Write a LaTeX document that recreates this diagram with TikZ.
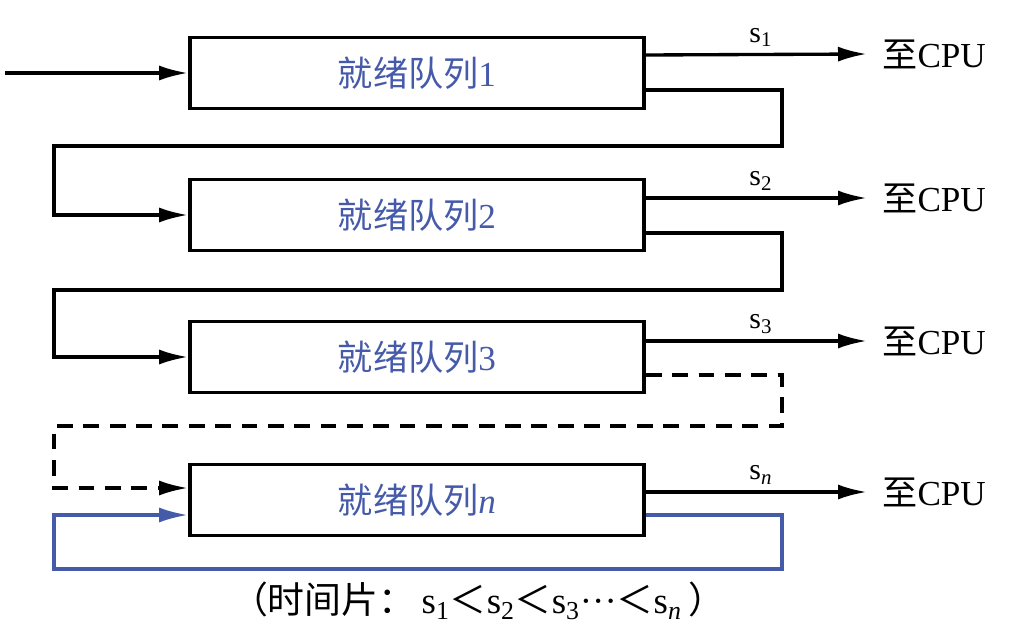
\documentclass[tikz,border=0pt]{standalone}
\usepackage{fontspec}
\setmainfont{Liberation Serif}
\newfontfamily\cjk{Noto Sans CJK SC}
\usetikzlibrary{calc,arrows.meta}
\definecolor{qblue}{RGB}{70,90,170}
\tikzset{
    queue/.style={draw,line width=2.2pt,minimum width=9.08cm,minimum height=1.42cm,
      text=qblue,font=\fontsize{20}{24}\selectfont},
    line/.style={line width=1.9pt},
    arr/.style={line,-{Latex[length=5.8mm,width=3mm]}},
    cpu/.style={right,font=\fontsize{20}{24}\selectfont,inner sep=0pt},
    slice/.style={font=\fontsize{17}{20}\selectfont},
  }
\begin{document}
\begin{tikzpicture}[x=0.02cm,y=-0.02cm]
	\useasboundingbox (0,0) rectangle (1014,642);
	%files d'attente
	\node[queue] (q1) at (417,73) {{\cjk 就绪队列}1};
	\node[queue] (q2) at (417,215) {{\cjk 就绪队列}2};
	\node[queue] (q3) at (417,357) {{\cjk 就绪队列}3};
	\node[queue] (q4) at (417,500) {{\cjk 就绪队列}\textit{n}};
	%entree
	\coordinate (in) at (5,73);
	\draw[arr] (in) -- (q1.west);
	%sorties vers CPU
	\coordinate (o1) at ($(q1.east)+(0,-18)$);
	\coordinate (o2) at ($(q2.east)+(0,-17)$);
	\coordinate (o3) at ($(q3.east)+(0,-16)$);
	\coordinate (o4) at ($(q4.east)+(0,-8)$);
	\node[cpu] (c1) at (882,54) {{\cjk 至}CPU};
	\node[cpu] (c2) at (882,198) {{\cjk 至}CPU};
	\node[cpu] (c3) at (882,341) {{\cjk 至}CPU};
	\node[cpu] (c4) at (882,492) {{\cjk 至}CPU};
	\draw[arr] (o1) -- node[above,slice,pos=0.52]{s\textsubscript{1}} ($(c1.west)+(-15,0)$);
	\draw[arr] (o2) -- node[above,slice,pos=0.52]{s\textsubscript{2}} ($(c2.west)+(-15,0)$);
	\draw[arr] (o3) -- node[above,slice,pos=0.52]{s\textsubscript{3}} ($(c3.west)+(-15,0)$);
	\draw[arr] (o4) -- node[above,slice,pos=0.52]{s\textsubscript{\textit{n}}} ($(c4.west)+(-15,0)$);
	%retours
	\coordinate (r1) at ($(q1.east)+(0,17)$);
	\coordinate (r2) at ($(q2.east)+(0,18)$);
	\coordinate (r3) at ($(q3.east)+(0,18)$);
	\coordinate (r4) at ($(q4.east)+(0,15)$);
	\draw[arr] (r1) -- ++(136,0) |- (54,146) |- (q2.west);
	\draw[arr] (r2) -- ++(136,0) |- (54,290) |- (q3.west);
	\draw[arr,dash pattern=on 9pt off 6pt] (r3) -- ++(136,0) |- (54,426) |- ($(q4.west)+(0,-12)$);
	\draw[arr,qblue] (r4) -- ++(136,0) |- (54,569) |- ($(q4.west)+(0,15)$);
	%legende
	\node[font=\fontsize{21}{24}\selectfont] (leg) at (478,601)
	  {{\cjk （时间片：}\,s\textsubscript{1}{\cjk ＜}s\textsubscript{2}{\cjk ＜}s\textsubscript{3}···{\cjk ＜}s\textsubscript{\textit{n}}\,{\cjk ）}};
\end{tikzpicture}
\end{document}
